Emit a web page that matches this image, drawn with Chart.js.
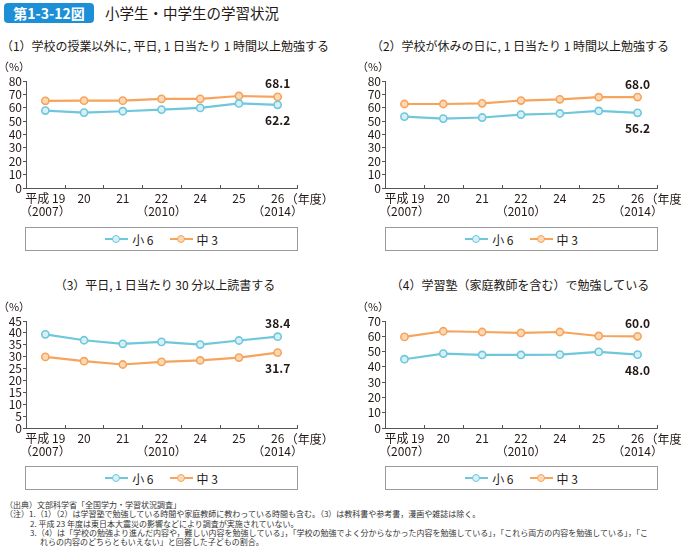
<!DOCTYPE html>
<html>
<head>
<meta charset="utf-8">
<script src="https://cdn.jsdelivr.net/npm/chart.js@4.4.1/dist/chart.umd.min.js"></script>
<style>
body{margin:0;width:682px;height:554px;position:relative;overflow:hidden;background:#fff;
  font-family:"Noto Sans CJK JP",sans-serif;color:#231815}
.abs{position:absolute;white-space:nowrap}
#badge{left:4px;top:3px;width:90px;height:20px;background:#1d8fd6;border-radius:4px;color:#fff;
  font-weight:bold;font-size:14px;line-height:20px;text-align:center}
#heading{left:105px;top:2px;font-size:14.5px;line-height:22px}
.sub{font-size:12px;line-height:16px;text-align:center;width:340px}
.legend{height:22px;border:1px solid #9a9a9a;display:flex;justify-content:center;align-items:center;gap:16px;font-size:12px}
.legend span{display:flex;align-items:center;gap:4px}
.mk{position:relative;width:23px;height:8px}
.mk:before{content:"";position:absolute;left:0;right:0;top:3px;height:2px;background:var(--c)}
.mk:after{content:"";position:absolute;left:7px;top:0;width:6px;height:6px;border-radius:50%;border:1.5px solid var(--c);background:var(--f)}
#notes{left:5px;top:500px;font-family:"Noto Sans CJK JP",serif;font-size:8px;line-height:9.3px;color:#333}
#notes div{white-space:nowrap}
</style>
</head>
<body>
<div id="badge" class="abs">第1-3-12図</div>
<div id="heading" class="abs">小学生・中学生の学習状況</div>

<div class="abs sub" style="left:-5px;top:38px">（1）学校の授業以外に, 平日, 1 日当たり 1 時間以上勉強する</div>
<div class="abs sub" style="left:350px;top:38px">（2）学校が休みの日に, 1 日当たり 1 時間以上勉強する</div>
<div class="abs sub" style="left:-5px;top:277px">（3）平日, 1 日当たり 30 分以上読書する</div>
<div class="abs sub" style="left:350px;top:277px">（4）学習塾（家庭教師を含む）で勉強している</div>

<canvas id="c1" class="abs" style="left:0;top:60px"></canvas>
<canvas id="c2" class="abs" style="left:359px;top:60px"></canvas>
<canvas id="c3" class="abs" style="left:0;top:300px"></canvas>
<canvas id="c4" class="abs" style="left:359px;top:300px"></canvas>

<div class="abs legend" style="left:25px;top:227px;width:271px"><span><i class="mk" style="--c:#6fc7db;--f:#d6f0f6"></i>小 6</span><span><i class="mk" style="--c:#f6a45b;--f:#fcd9b5"></i>中 3</span></div>
<div class="abs legend" style="left:385px;top:227px;width:271px"><span><i class="mk" style="--c:#6fc7db;--f:#d6f0f6"></i>小 6</span><span><i class="mk" style="--c:#f6a45b;--f:#fcd9b5"></i>中 3</span></div>
<div class="abs legend" style="left:25px;top:466px;width:271px"><span><i class="mk" style="--c:#6fc7db;--f:#d6f0f6"></i>小 6</span><span><i class="mk" style="--c:#f6a45b;--f:#fcd9b5"></i>中 3</span></div>
<div class="abs legend" style="left:385px;top:466px;width:271px"><span><i class="mk" style="--c:#6fc7db;--f:#d6f0f6"></i>小 6</span><span><i class="mk" style="--c:#f6a45b;--f:#fcd9b5"></i>中 3</span></div>

<div id="notes" class="abs">
<div>（出典）文部科学省「全国学力・学習状況調査」</div>
<div>（注）1.（1）（2）は学習塾で勉強している時間や家庭教師に教わっている時間も含む。（3）は教科書や参考書，漫画や雑誌は除く。</div>
<div style="padding-left:25px">2. 平成 23 年度は東日本大震災の影響などにより調査が実施されていない。</div>
<div style="padding-left:25px">3.（4）は「学校の勉強より進んだ内容や，難しい内容を勉強している」，「学校の勉強でよく分からなかった内容を勉強している」，「これら両方の内容を勉強している」，「こ</div>
<div style="padding-left:35px">れらの内容のどちらともいえない」と回答した子どもの割合。</div>
</div>

<script>
// survey years (平成), 23 was skipped
const years = [['平成 19', '（2007）'], '20', '21', ['22', '（2010）'], '24', '25', ['26', '（2014）']];

// (1) weekday study 1h+
const weekdaySho6 = [57.9, 56.4, 57.4, 58.6, 59.9, 63.2, 62.2];
const weekdayChu3 = [65.2, 65.3, 65.3, 66.6, 66.6, 68.8, 68.1];

// (2) holiday study 1h+
const holidaySho6 = [53.4, 51.9, 52.7, 54.9, 55.7, 57.6, 56.2];
const holidayChu3 = [62.8, 62.8, 63.3, 65.4, 66.3, 67.9, 68.0];

// (3) weekday reading 30min+
const readingSho6 = [39.4, 36.9, 35.4, 36.2, 35.1, 36.8, 38.4];
const readingChu3 = [29.9, 28.1, 26.7, 27.8, 28.4, 29.6, 31.7];

// (4) juku / tutor
const jukuSho6 = [45.0, 48.7, 47.8, 47.8, 48.0, 49.8, 48.0];
const jukuChu3 = [59.6, 63.3, 62.8, 62.2, 62.8, 60.2, 60.0];

const blue = '#6fc7db';
const orange = '#f6a45b';
const txt = '#231815';
const font = '"Noto Sans CJK JP", sans-serif';

// extra bits: (%) , (年度), inner x ticks, end labels
const extras = {
    id: 'extras',
    afterDraw(chart) {
        const ctx = chart.ctx;
        const area = chart.chartArea;
        const x = chart.scales.x;
        ctx.save();
        ctx.fillStyle = txt;
        ctx.font = '11px ' + font;
        ctx.textAlign = 'center';
        ctx.textBaseline = 'middle';
        ctx.fillText('（%）', area.left - 12, area.top - 14);

        ctx.font = '12px ' + font;
        ctx.textAlign = 'left';
        ctx.fillText('（年度）', x.getPixelForValue(6) + 8, area.bottom + 11);

        // small ticks pointing up between categories
        const gap = x.getPixelForValue(1) - x.getPixelForValue(0);
        ctx.strokeStyle = '#555';
        ctx.lineWidth = 1;
        for (let i = 0; i <= 6; i++) {
            const px = Math.round(x.getPixelForValue(i) + gap / 2) + 0.5;
            ctx.beginPath();
            ctx.moveTo(px, area.bottom);
            ctx.lineTo(px, area.bottom - 3);
            ctx.stroke();
        }

        // last values
        const m0 = chart.getDatasetMeta(0).data[6];
        const m1 = chart.getDatasetMeta(1).data[6];
        const d0 = chart.data.datasets[0].data[6];
        const d1 = chart.data.datasets[1].data[6];
        ctx.font = 'bold 12px ' + font;
        ctx.textAlign = 'center';
        const up = d0 > d1 ? [m0, d0] : [m1, d1];
        const dn = d0 > d1 ? [m1, d1] : [m0, d0];
        ctx.fillText(up[1].toFixed(1), up[0].x, up[0].y - 13);
        ctx.fillText(dn[1].toFixed(1), dn[0].x, dn[0].y + 16);
        ctx.restore();
    }
};

function makeChart(id, sho6, chu3, max, step, w, rightPad) {
    const el = document.getElementById(id);
    el.width = w;
    el.height = 165;
    return new Chart(el, {
        type: 'line',
        data: {
            labels: years,
            datasets: [
                { label: '小 6', data: sho6, borderColor: blue, backgroundColor: '#d6f0f6',
                  pointBorderColor: blue, pointBackgroundColor: '#d6f0f6' },
                { label: '中 3', data: chu3, borderColor: orange, backgroundColor: '#fcd9b5',
                  pointBorderColor: orange, pointBackgroundColor: '#fcd9b5' }
            ]
        },
        options: {
            responsive: false,
            animation: false,
            layout: { padding: { top: 21, right: rightPad, left: 0, bottom: 0 } },
            elements: {
                line: { borderWidth: 2.2, tension: 0 },
                point: { radius: 3.6, borderWidth: 1.6 }
            },
            plugins: { legend: { display: false }, tooltip: { enabled: false } },
            scales: {
                x: {
                    offset: true,
                    grid: { display: true, offset: true, drawOnChartArea: false, drawTicks: false },
                    border: { color: '#555', width: 1 },
                    ticks: { color: txt, font: { size: 12, family: font, lineHeight: 1.1 }, padding: 4,
                             maxRotation: 0, autoSkip: false },
                    afterFit: s => { s.height = 37; }
                },
                y: {
                    min: 0, max: max,
                    grid: { drawOnChartArea: false, tickLength: 3, color: '#555' },
                    border: { color: '#555', width: 1 },
                    ticks: { stepSize: step, autoSkip: false, color: txt,
                             font: { size: 12, family: font, lineHeight: 1 }, padding: 1 },
                    afterFit: s => { s.width = 26; }
                }
            }
        },
        plugins: [extras]
    });
}

makeChart('c1', weekdaySho6, weekdayChu3, 80, 10, 330, 33);
makeChart('c2', holidaySho6, holidayChu3, 80, 10, 323, 25);
makeChart('c3', readingSho6, readingChu3, 45, 5, 330, 33);
makeChart('c4', jukuSho6, jukuChu3, 70, 10, 323, 25);
</script>
</body>
</html>
